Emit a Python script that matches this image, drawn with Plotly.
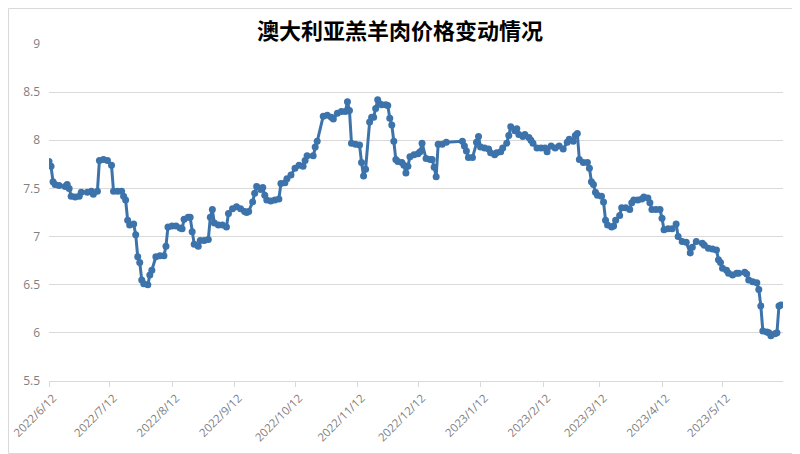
import plotly.graph_objects as go

# 澳大利亚羔羊肉价格
dates = [
    "2022-06-12", "2022-06-13", "2022-06-14", "2022-06-15", "2022-06-17", "2022-06-20",
    "2022-06-21", "2022-06-22", "2022-06-23", "2022-06-25", "2022-06-27", "2022-06-28",
    "2022-07-01", "2022-07-03", "2022-07-04", "2022-07-06", "2022-07-07", "2022-07-09",
    "2022-07-11", "2022-07-13", "2022-07-14", "2022-07-16", "2022-07-18", "2022-07-19",
    "2022-07-20", "2022-07-21", "2022-07-22", "2022-07-24", "2022-07-25", "2022-07-26",
    "2022-07-27", "2022-07-28", "2022-07-29", "2022-07-31", "2022-08-01", "2022-08-02",
    "2022-08-04", "2022-08-06", "2022-08-08", "2022-08-09", "2022-08-10", "2022-08-12",
    "2022-08-14", "2022-08-16", "2022-08-17", "2022-08-18", "2022-08-20", "2022-08-21",
    "2022-08-22", "2022-08-23", "2022-08-25", "2022-08-26", "2022-08-28", "2022-08-30",
    "2022-08-31", "2022-09-01", "2022-09-02", "2022-09-04", "2022-09-06", "2022-09-08",
    "2022-09-09", "2022-09-11", "2022-09-13", "2022-09-15", "2022-09-17", "2022-09-18",
    "2022-09-19", "2022-09-21", "2022-09-22", "2022-09-23", "2022-09-25", "2022-09-26",
    "2022-09-27", "2022-09-28", "2022-09-30", "2022-10-02", "2022-10-04", "2022-10-05",
    "2022-10-07", "2022-10-08", "2022-10-10", "2022-10-12", "2022-10-14", "2022-10-16",
    "2022-10-17", "2022-10-18", "2022-10-21", "2022-10-22", "2022-10-23", "2022-10-26",
    "2022-10-28", "2022-10-30", "2022-10-31", "2022-11-02", "2022-11-04", "2022-11-06",
    "2022-11-07", "2022-11-08", "2022-11-09", "2022-11-11", "2022-11-13", "2022-11-14",
    "2022-11-15", "2022-11-16", "2022-11-18", "2022-11-19", "2022-11-20", "2022-11-21",
    "2022-11-22", "2022-11-23", "2022-11-24", "2022-11-26", "2022-11-27", "2022-11-28",
    "2022-11-29", "2022-11-30", "2022-12-01", "2022-12-02", "2022-12-04", "2022-12-05",
    "2022-12-06", "2022-12-07", "2022-12-08", "2022-12-10", "2022-12-12", "2022-12-13",
    "2022-12-14", "2022-12-16", "2022-12-18", "2022-12-19", "2022-12-20", "2022-12-21",
    "2022-12-22", "2022-12-24", "2022-12-26", "2023-01-03", "2023-01-04", "2023-01-05",
    "2023-01-06", "2023-01-08", "2023-01-10", "2023-01-11", "2023-01-12", "2023-01-14",
    "2023-01-16", "2023-01-17", "2023-01-19", "2023-01-20", "2023-01-22", "2023-01-23",
    "2023-01-25", "2023-01-26", "2023-01-27", "2023-01-29", "2023-01-30", "2023-01-31",
    "2023-02-02", "2023-02-03", "2023-02-05", "2023-02-06", "2023-02-07", "2023-02-09",
    "2023-02-11", "2023-02-13", "2023-02-14", "2023-02-16", "2023-02-18", "2023-02-20",
    "2023-02-22", "2023-02-24", "2023-02-25", "2023-02-27", "2023-02-28", "2023-03-01",
    "2023-03-02", "2023-03-04", "2023-03-06", "2023-03-07", "2023-03-08", "2023-03-09",
    "2023-03-10", "2023-03-11", "2023-03-13", "2023-03-14", "2023-03-15", "2023-03-16",
    "2023-03-18", "2023-03-19", "2023-03-20", "2023-03-22", "2023-03-23", "2023-03-25",
    "2023-03-27", "2023-03-28", "2023-03-29", "2023-03-31", "2023-04-02", "2023-04-03",
    "2023-04-05", "2023-04-06", "2023-04-07", "2023-04-09", "2023-04-11", "2023-04-12",
    "2023-04-13", "2023-04-15", "2023-04-17", "2023-04-19", "2023-04-20", "2023-04-22",
    "2023-04-24", "2023-04-26", "2023-04-27", "2023-04-29", "2023-05-02", "2023-05-03",
    "2023-05-05", "2023-05-07", "2023-05-09", "2023-05-10", "2023-05-11", "2023-05-12",
    "2023-05-14", "2023-05-15", "2023-05-17", "2023-05-19", "2023-05-20", "2023-05-23",
    "2023-05-24", "2023-05-25", "2023-05-27", "2023-05-29", "2023-05-30", "2023-05-31",
    "2023-06-01", "2023-06-03", "2023-06-04", "2023-06-05", "2023-06-07", "2023-06-08",
    "2023-06-09", "2023-06-10",
]

prices = [
    7.78, 7.73, 7.57, 7.54, 7.53, 7.52,
    7.54, 7.50, 7.42, 7.41, 7.42, 7.46,
    7.46, 7.47, 7.44, 7.47, 7.79, 7.80,
    7.79, 7.74, 7.47, 7.47, 7.47, 7.42,
    7.38, 7.17, 7.12, 7.13, 7.02, 6.79,
    6.73, 6.55, 6.51, 6.50, 6.60, 6.65,
    6.79, 6.80, 6.80, 6.90, 7.10, 7.11,
    7.11, 7.09, 7.08, 7.18, 7.20, 7.20,
    7.05, 6.92, 6.90, 6.96, 6.96, 6.97,
    7.20, 7.28, 7.14, 7.12, 7.12, 7.10,
    7.24, 7.29, 7.31, 7.29, 7.26, 7.25,
    7.26, 7.36, 7.45, 7.52, 7.49, 7.51,
    7.43, 7.38, 7.37, 7.38, 7.39, 7.55,
    7.56, 7.60, 7.64, 7.71, 7.74, 7.73,
    7.79, 7.84, 7.84, 7.93, 7.99, 8.25,
    8.26, 8.24, 8.22, 8.28, 8.30, 8.30,
    8.40, 8.31, 7.97, 7.96, 7.95, 7.77,
    7.63, 7.70, 8.19, 8.24, 8.24, 8.33,
    8.42, 8.38, 8.37, 8.37, 8.36, 8.23,
    8.16, 7.99, 7.80, 7.78, 7.77, 7.74,
    7.66, 7.73, 7.83, 7.85, 7.86, 7.88,
    7.97, 7.81, 7.80, 7.80, 7.72, 7.62,
    7.96, 7.96, 7.98, 7.99, 7.94, 7.89,
    7.82, 7.82, 7.98, 8.04, 7.93, 7.92,
    7.91, 7.87, 7.85, 7.87, 7.88, 7.92,
    7.97, 8.05, 8.14, 8.10, 8.12, 8.06,
    8.04, 8.06, 8.03, 8.00, 7.97, 7.92,
    7.92, 7.92, 7.88, 7.94, 7.92, 7.94,
    7.91, 7.98, 8.01, 7.99, 8.05, 8.07,
    7.80, 7.77, 7.77, 7.71, 7.57, 7.54,
    7.46, 7.43, 7.42, 7.36, 7.17, 7.12,
    7.10, 7.11, 7.17, 7.22, 7.30, 7.30,
    7.28, 7.35, 7.38, 7.38, 7.39, 7.41,
    7.40, 7.35, 7.28, 7.28, 7.28, 7.19,
    7.07, 7.08, 7.08, 7.13, 7.00, 6.95,
    6.94, 6.83, 6.89, 6.95, 6.93, 6.91,
    6.88, 6.87, 6.86, 6.76, 6.73, 6.67,
    6.65, 6.62, 6.60, 6.62, 6.62, 6.63,
    6.61, 6.55, 6.53, 6.52, 6.45, 6.28,
    6.02, 6.01, 6.00, 5.97, 5.99, 6.00,
    6.28, 6.29,
]

tick_dates = [
    "2022-06-12", "2022-07-12", "2022-08-12", "2022-09-12", "2022-10-12", "2022-11-12",
    "2022-12-12", "2023-01-12", "2023-02-12", "2023-03-12", "2023-04-12", "2023-05-12",
]
tick_labels = [
    "2022/6/12", "2022/7/12", "2022/8/12", "2022/9/12", "2022/10/12", "2022/11/12",
    "2022/12/12", "2023/1/12", "2023/2/12", "2023/3/12", "2023/4/12", "2023/5/12",
]

line_color = "#3d73ab"
grey = "#7f7f7f"

fig = go.Figure()
fig.add_trace(go.Scatter(
    x=dates, y=prices,
    mode="lines+markers",
    line=dict(color=line_color, width=3),
    marker=dict(color=line_color, size=7),
    showlegend=False,
))

# the page body adds an 8px margin, so the figure is 8px smaller than the window
W, H = 792, 446
L, R, T, B = 41, 17, 36, 73
pw, ph = W - L - R, H - T - B

fig.update_layout(
    width=W, height=H,
    margin=dict(l=L, r=R, t=T, b=B, autoexpand=False),
    paper_bgcolor="white",
    plot_bgcolor="white",
    font=dict(family="Noto Sans CJK SC, Noto Sans, sans-serif"),
    title=dict(
        text="<b>澳大利亚羔羊肉价格变动情况</b>",
        xref="container", x=392 / W, xanchor="center",
        y=1 - 23 / H, yanchor="middle",
        font=dict(size=22, color="#000000"),
    ),
    # thin chart-area border
    shapes=[dict(
        type="rect", xref="paper", yref="paper",
        x0=-(L - 0.5) / pw, x1=(W - L - 0.5) / pw,
        y0=-(B - 0.5) / ph, y1=(H - B - 0.5) / ph,
        line=dict(color="#d9d9d9", width=1),
    )],
)

fig.update_xaxes(
    type="date",
    automargin=False,
    range=["2022-06-12", "2023-06-11"],
    tickvals=tick_dates,
    ticktext=tick_labels,
    tickangle=-45,
    ticklabeloverflow="allow",
    ticklabelshift=4,
    tickfont=dict(size=11.5, color=grey, family="Open Sans, sans-serif"),
    ticks="outside", ticklen=5, tickcolor="#d9d9d9",
    showgrid=False,
    showline=True, linecolor="#d9d9d9", linewidth=1,
    zeroline=False,
)
fig.update_yaxes(
    automargin=False,
    range=[5.5, 9],
    tickvals=[5.5, 6, 6.5, 7, 7.5, 8, 8.5, 9],
    ticktext=["5.5", "6", "6.5", "7", "7.5", "8", "8.5", "9"],
    tickfont=dict(size=12, color=grey, family="Open Sans, sans-serif"),
    showgrid=True, gridcolor="#d9d9d9", gridwidth=1,
    zeroline=False,
    ticks="", ticklabelstandoff=8,
)

fig.write_html("out.html")
